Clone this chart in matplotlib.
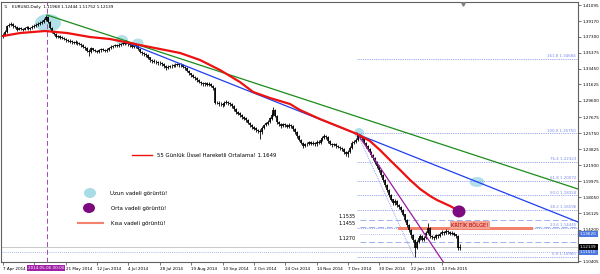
import matplotlib
matplotlib.use('Agg')
import matplotlib.pyplot as plt
from matplotlib.patches import Ellipse, Rectangle

# ---------------- data ----------------
closes = [
1.3750,1.3790,1.3858,1.3870,1.3882,1.3860,1.3846,1.3815,1.3830,1.3822,
1.3812,1.3835,1.3842,1.3825,1.3834,1.3850,1.3862,1.3870,1.3885,1.3894,
1.3905,1.3930,1.3966,1.3910,1.3835,1.3790,1.3760,1.3726,1.3735,1.3720,
1.3714,1.3700,1.3690,1.3680,1.3672,1.3666,1.3655,1.3666,1.3650,1.3640,
1.3630,1.3610,1.3594,1.3560,1.3547,1.3590,1.3571,1.3560,1.3547,1.3565,
1.3580,1.3575,1.3560,1.3571,1.3590,1.3607,1.3615,1.3625,1.3620,1.3630,
1.3640,1.3648,1.3660,1.3654,1.3640,1.3630,1.3612,1.3625,1.3618,1.3580,
1.3547,1.3530,1.3520,1.3511,1.3480,1.3451,1.3440,1.3430,1.3427,1.3415,
1.3410,1.3403,1.3380,1.3355,1.3365,1.3375,1.3379,1.3385,1.3391,1.3400,
1.3385,1.3391,1.3370,1.3355,1.3320,1.3290,1.3271,1.3250,1.3235,1.3210,
1.3190,1.3175,1.3160,1.3170,1.3155,1.3163,1.3140,1.3116,1.2936,1.2940,
1.2920,1.2924,1.2910,1.2935,1.2945,1.2936,1.2920,1.2900,1.2860,1.2828,
1.2810,1.2792,1.2770,1.2750,1.2733,1.2700,1.2670,1.2649,1.2630,1.2613,
1.2600,1.2589,1.2640,1.2673,1.2690,1.2709,1.2750,1.2792,1.2852,1.2780,
1.2709,1.2680,1.2661,1.2680,1.2673,1.2650,1.2670,1.2661,1.2620,1.2589,
1.2540,1.2493,1.2460,1.2421,1.2440,1.2445,1.2465,1.2450,1.2457,1.2440,
1.2470,1.2457,1.2490,1.2517,1.2535,1.2529,1.2480,1.2445,1.2430,1.2440,
1.2421,1.2410,1.2397,1.2380,1.2350,1.2325,1.2349,1.2400,1.2457,1.2470,
1.2493,1.2553,1.2530,1.2517,1.2460,1.2421,1.2380,1.2349,1.2310,1.2277,
1.2230,1.2181,1.2130,1.2073,1.2010,1.1954,1.1890,1.1834,1.1780,1.1738,
1.1760,1.1714,1.1690,1.1655,1.1600,1.1535,1.1470,1.1415,1.1350,1.1295,
1.1199,1.1270,1.1319,1.1343,1.1300,1.1319,1.1380,1.1439,1.1343,1.1330,
1.1319,1.1350,1.1343,1.1370,1.1391,1.1380,1.1400,1.1391,1.1370,1.1379,
1.1360,1.1343,1.11968,1.12139]
highs = [
1.3775,1.3810,1.3870,1.3895,1.3905,1.3890,1.3872,1.3855,1.3845,1.3842,
1.3835,1.3850,1.3860,1.3855,1.3848,1.3868,1.3880,1.3890,1.3902,1.3915,
1.3925,1.3952,1.3993,1.3975,1.3920,1.3845,1.3800,1.3770,1.3752,1.3748,
1.3735,1.3728,1.3712,1.3705,1.3698,1.3688,1.3680,1.3685,1.3678,1.3665,
1.3655,1.3642,1.3620,1.3605,1.3580,1.3605,1.3600,1.3585,1.3575,1.3580,
1.3598,1.3595,1.3588,1.3590,1.3608,1.3625,1.3632,1.3645,1.3640,1.3650,
1.3660,1.3668,1.3682,1.3690,1.3670,1.3655,1.3642,1.3645,1.3648,1.3628,
1.3590,1.3560,1.3545,1.3535,1.3520,1.3490,1.3468,1.3458,1.3450,1.3442,
1.3435,1.3428,1.3415,1.3390,1.3385,1.3395,1.3400,1.3405,1.3412,1.3420,
1.3415,1.3410,1.3400,1.3382,1.3365,1.3330,1.3300,1.3282,1.3262,1.3245,
1.3222,1.3205,1.3188,1.3190,1.3182,1.3185,1.3175,1.3150,1.3125,1.2965,
1.2955,1.2945,1.2938,1.2958,1.2972,1.2965,1.2948,1.2932,1.2910,1.2872,
1.2842,1.2825,1.2805,1.2785,1.2765,1.2745,1.2712,1.2685,1.2665,1.2648,
1.2628,1.2620,1.2655,1.2690,1.2710,1.2730,1.2768,1.2815,1.2890,1.2865,
1.2792,1.2720,1.2695,1.2700,1.2698,1.2685,1.2692,1.2688,1.2672,1.2632,
1.2600,1.2552,1.2505,1.2472,1.2462,1.2468,1.2485,1.2478,1.2480,1.2470,
1.2492,1.2488,1.2510,1.2540,1.2560,1.2555,1.2540,1.2492,1.2458,1.2462,
1.2452,1.2435,1.2425,1.2410,1.2392,1.2362,1.2368,1.2418,1.2475,1.2492,
1.2520,1.2570,1.2562,1.2545,1.2528,1.2472,1.2432,1.2392,1.2360,1.2322,
1.2288,1.2242,1.2192,1.2142,1.2085,1.2022,1.1965,1.1902,1.1845,1.1792,
1.1785,1.1772,1.1728,1.1702,1.1668,1.1612,1.1548,1.1482,1.1428,1.1362,
1.1305,1.1290,1.1340,1.1365,1.1355,1.1342,1.1400,1.1500,1.1452,1.1360,
1.1345,1.1372,1.1368,1.1392,1.1412,1.1405,1.1425,1.1418,1.1402,1.1398,
1.1390,1.1372,1.1355,1.12444]
lows = [
1.3715,1.3742,1.3780,1.3845,1.3855,1.3840,1.3830,1.3800,1.3805,1.3806,
1.3795,1.3805,1.3822,1.3810,1.3812,1.3825,1.3840,1.3850,1.3860,1.3870,
1.3880,1.3895,1.3920,1.3895,1.3820,1.3775,1.3745,1.3710,1.3712,1.3705,
1.3698,1.3685,1.3672,1.3665,1.3655,1.3648,1.3640,1.3642,1.3635,1.3625,
1.3612,1.3595,1.3575,1.3545,1.3502,1.3535,1.3555,1.3545,1.3530,1.3535,
1.3552,1.3560,1.3545,1.3548,1.3562,1.3580,1.3595,1.3605,1.3602,1.3610,
1.3618,1.3625,1.3635,1.3638,1.3622,1.3610,1.3595,1.3600,1.3600,1.3565,
1.3530,1.3512,1.3500,1.3490,1.3462,1.3432,1.3420,1.3412,1.3405,1.3395,
1.3390,1.3380,1.3360,1.3335,1.3340,1.3350,1.3358,1.3362,1.3370,1.3378,
1.3368,1.3370,1.3352,1.3335,1.3302,1.3272,1.3252,1.3232,1.3215,1.3192,
1.3172,1.3155,1.3140,1.3145,1.3138,1.3140,1.3122,1.3095,1.2920,1.2918,
1.2902,1.2900,1.2890,1.2895,1.2925,1.2915,1.2900,1.2880,1.2842,1.2810,
1.2790,1.2772,1.2750,1.2730,1.2712,1.2680,1.2650,1.2628,1.2610,1.2590,
1.2575,1.2500,1.2570,1.2625,1.2655,1.2672,1.2695,1.2735,1.2780,1.2765,
1.2690,1.2660,1.2640,1.2645,1.2652,1.2632,1.2635,1.2642,1.2602,1.2570,
1.2522,1.2475,1.2440,1.2400,1.2405,1.2422,1.2430,1.2432,1.2435,1.2420,
1.2425,1.2440,1.2445,1.2478,1.2505,1.2508,1.2462,1.2428,1.2410,1.2415,
1.2400,1.2392,1.2378,1.2360,1.2330,1.2300,1.2295,1.2335,1.2388,1.2440,
1.2455,1.2478,1.2505,1.2495,1.2442,1.2400,1.2360,1.2325,1.2290,1.2255,
1.2210,1.2160,1.2110,1.2050,1.1990,1.1930,1.1868,1.1810,1.1758,1.1715,
1.1720,1.1692,1.1668,1.1632,1.1578,1.1512,1.1448,1.1390,1.1325,1.1268,
1.1096,1.1185,1.1255,1.1300,1.1282,1.1285,1.1305,1.1365,1.1325,1.1310,
1.1295,1.1305,1.1322,1.1330,1.1355,1.1360,1.1365,1.1372,1.1350,1.1355,
1.1340,1.1322,1.1180,1.11752]
first_open = 1.3730
opens = [first_open] + closes[:-1]

# 55-day EMA as drawn (bar index, value)
ema_idx = [0, 8.7, 21.4, 32.7, 44.4, 54.6, 64.8, 75, 90.3, 100.5, 110.7, 120.9,
           127.6, 136.2, 146.4, 151.5, 161.7, 171.9, 180.6, 187.2, 192.3, 197.4,
           202.6, 207.7, 212.8, 217.9, 221.4, 228.1, 232.1]
ema_val = [1.3738, 1.3774, 1.3798, 1.3774, 1.3726, 1.3702, 1.3654, 1.3606, 1.3535,
           1.3451, 1.3331, 1.3187, 1.3068, 1.2996, 1.2924, 1.2852, 1.2744, 1.2648,
           1.2565, 1.2481, 1.2373, 1.2253, 1.2134, 1.2014, 1.1906, 1.1822, 1.1774,
           1.1702, 1.1649]

x_tick_idx = [0, 16, 32, 48, 64, 80, 96, 112, 128, 144, 160, 176, 192, 208, 224]
# the label at index 16 is covered by the cursor date box in the picture
x_tick_labels = ['7 Apr 2014', '', '21 May 2014', '12 Jun 2014', '4 Jul 2014',
                 '28 Jul 2014', '19 Aug 2014', '10 Sep 2014', '2 Oct 2014', '24 Oct 2014',
                 '14 Nov 2014', '7 Dec 2014', '30 Dec 2014', '22 Jan 2015', '13 Feb 2015']
y_tick_vals = [1.41095, 1.39170, 1.37300, 1.35375, 1.33450, 1.31625, 1.29600, 1.27675,
               1.25750, 1.23825, 1.21900, 1.19975, 1.18050, 1.16125, 1.14200, 1.10405]

fib_levels = ['0.0', '23.6', '38.2', '50.0', '61.8', '76.4', '100.0', '161.8']
fib_prices = [1.10960, 1.14445, 1.16596, 1.18324, 1.20072, 1.22323, 1.25750, 1.34684]
hlines = [1.1535, 1.1455, 1.1270]
tag_upper = 1.13620      # blue price tag (short dotted level)
tag_lower = 1.11510      # blue price tag (full-width dotted horizontal line)
ema_value = 1.1649
header = 'EURUSD,Daily  1.11968 1.12444 1.11752 1.12139'

# ---------------- layout helpers ----------------
W, H = 600, 274
X0_PX, PX_PER_BAR = 3.0, 1.96
P_REF, Y_REF, PX_PER_UNIT = 1.41095, 5.0, 835.0
def xd(px):
    return (px - X0_PX) / PX_PER_BAR
def yd(py):
    return P_REF - (py - Y_REF) / PX_PER_UNIT
def bw(px):
    return px / PX_PER_BAR
def bh(px):
    return px / PX_PER_UNIT

plt.rcParams['font.family'] = ['DejaVu Sans']
FS = 3.9      # annotation texts
FT = 3.0      # axis / small texts
fig = plt.figure(figsize=(W / 100, H / 100), dpi=100)
ax = fig.add_axes([1 / W, 12 / H, 577 / W, 260 / H])
ax.set_xlim(xd(1), xd(578))
ax.set_ylim(yd(262), yd(2))
for s in ax.spines.values():
    s.set_color('#606060')
    s.set_linewidth(0.8)

# ellipses (behind candles)
light = '#a9dde6'
for (cx, cy, w, h) in [(48, 23, 26, 18), (122, 40, 12, 10), (138, 43, 11, 9),
                       (359, 133, 10, 10), (477, 182, 15, 10)]:
    ax.add_patch(Ellipse((xd(cx), yd(cy)), bw(w), bh(h), color=light, alpha=0.9,
                         zorder=1, lw=0))

# horizontal helper lines
ax.axhline(closes[-1], color='#c0c0c0', lw=0.6, zorder=1)
for p in hlines:
    ax.plot([xd(360), xd(578)], [p, p], color='#9fb2ef', lw=0.7, ls=(0, (6, 3)), zorder=1)
    ax.text(xd(356), p + bh(1), f'{p:.4f}', fontsize=3.5, ha='right', va='bottom',
            color='black')
ax.plot([xd(360), xd(578)], [tag_upper] * 2, color='#9fb2ef', lw=0.6, ls=(0, (1, 1.5)),
        zorder=1)
ax.axhline(tag_lower, color='#8da0ee', lw=0.6, ls=(0, (1, 1.5)), zorder=1)

fib_col = '#7b8bec'
for lvl, p in zip(fib_levels, fib_prices):
    ax.plot([xd(357), xd(578)], [p, p], color=fib_col, lw=0.6, ls=(0, (1, 1.2)), zorder=1)
    ax.text(xd(576), p + bh(0.5), f'{lvl} {p:.5f}', fontsize=2.9, ha='right', va='bottom',
            color=fib_col)
ax.plot([xd(357), xd(414)], [fib_prices[-2], fib_prices[0]], color=fib_col, lw=0.6,
        ls=(0, (1, 1.2)), zorder=1)

# vertical line
ax.axvline(xd(47), color='#a04ab0', lw=0.7, ls=(0, (5, 3)), zorder=2)

# orange short-term band and critical zone
ax.add_patch(Rectangle((xd(398), yd(230)), bw(135), bh(3), color='#f3826c', lw=0, zorder=2))
ax.text(xd(451), yd(225), 'KRİTİK BÖLGE!', fontsize=3.7, color='#b00000', ha='left',
        va='center', zorder=6,
        bbox=dict(boxstyle='square,pad=0.25', fc='#f4a294', ec='none'))

# candles
for i, (o, h, l, c) in enumerate(zip(opens, highs, lows, closes)):
    ax.vlines(i, l, h, color='black', lw=0.6, zorder=3)
    ax.vlines(i, min(o, c), max(o, c) + 1e-4, color='black', lw=1.2, zorder=3)

# trend lines
ax.plot([xd(47), xd(578)], [yd(15), yd(189)], color='#1a8c1a', lw=0.9, zorder=4)
ax.plot([xd(128), xd(578)], [yd(43), yd(222)], color='#1f3ff0', lw=0.9, zorder=4)
ax.plot([xd(357), xd(452)], [yd(133), yd(275)], color='#9a1aa0', lw=0.9, zorder=4,
        clip_on=True)

# EMA
ax.plot(ema_idx, ema_val, color='#ee1111', lw=1.6, zorder=4, solid_capstyle='round')

# purple ellipse
ax.add_patch(Ellipse((xd(459), ema_value - bh(1)), bw(13), bh(12), color='#7e0a80',
                     zorder=5, lw=0))

# legend annotations
ax.plot([xd(132), xd(152)], [yd(155)] * 2, color='#ee1111', lw=1.0, zorder=5)
ax.text(xd(157), yd(155), f'55 Günlük Üssel Hareketli Ortalama! {ema_value}', fontsize=FS,
        va='center', ha='left')
ax.add_patch(Ellipse((xd(90), yd(193)), bw(12), bh(10), color=light, lw=0, zorder=5))
ax.text(xd(110), yd(193), 'Uzun vadeli görüntü!', fontsize=FS, va='center', ha='left')
ax.add_patch(Ellipse((xd(89), yd(208)), bw(12), bh(10), color='#7e0a80', lw=0, zorder=5))
ax.text(xd(111), yd(208), 'Orta vadeli görüntü!', fontsize=FS, va='center', ha='left')
ax.plot([xd(78), xd(103)], [yd(223)] * 2, color='#f3826c', lw=1.5, zorder=5)
ax.text(xd(111), yd(223), 'Kısa vadeli görüntü!', fontsize=FS, va='center', ha='left')

ax.text(xd(12), yd(6.5), header, fontsize=FT, va='center', ha='left')
ax.text(xd(6), yd(6.5), '⇅', fontsize=FT, va='center', ha='center', color='#404040')
ax.plot([xd(463)], [yd(3.5)], marker='v', ms=2.5, color='#808080', clip_on=False, zorder=6)

# axes ticks
ax.yaxis.tick_right()
ax.set_yticks(y_tick_vals)
ax.set_yticklabels([f'{v:.5f}' for v in y_tick_vals], fontsize=FT)
ax.set_xticks(x_tick_idx)
ax.set_xticklabels(x_tick_labels, fontsize=FT, ha='left')
ax.tick_params(axis='both', length=2, width=0.6, color='#606060', pad=1.5)

# price tags on the right axis
def ytag(price):
    return 12 / H + (price - yd(262)) / (yd(2) - yd(262)) * 260 / H
for p in (tag_upper, tag_lower):
    fig.text(580 / W, ytag(p), f'{p:.5f}', fontsize=FT, color='white', ha='left',
             va='center', bbox=dict(boxstyle='square,pad=0.25', fc='#4a78e0', ec='none'))
fig.text(580 / W, ytag(closes[-1]), f'{closes[-1]:.5f}', fontsize=FT, color='white',
         ha='left', va='center', bbox=dict(boxstyle='square,pad=0.25', fc='black', ec='none'))

# cursor date box
fig.text(46 / W, 1 - 268 / H, '2014.05.06 00:00', fontsize=FT, color='white', ha='center',
         va='center', bbox=dict(boxstyle='square,pad=0.3', fc='#a020a8', ec='none'))

fig.savefig('out.png', dpi=100)
